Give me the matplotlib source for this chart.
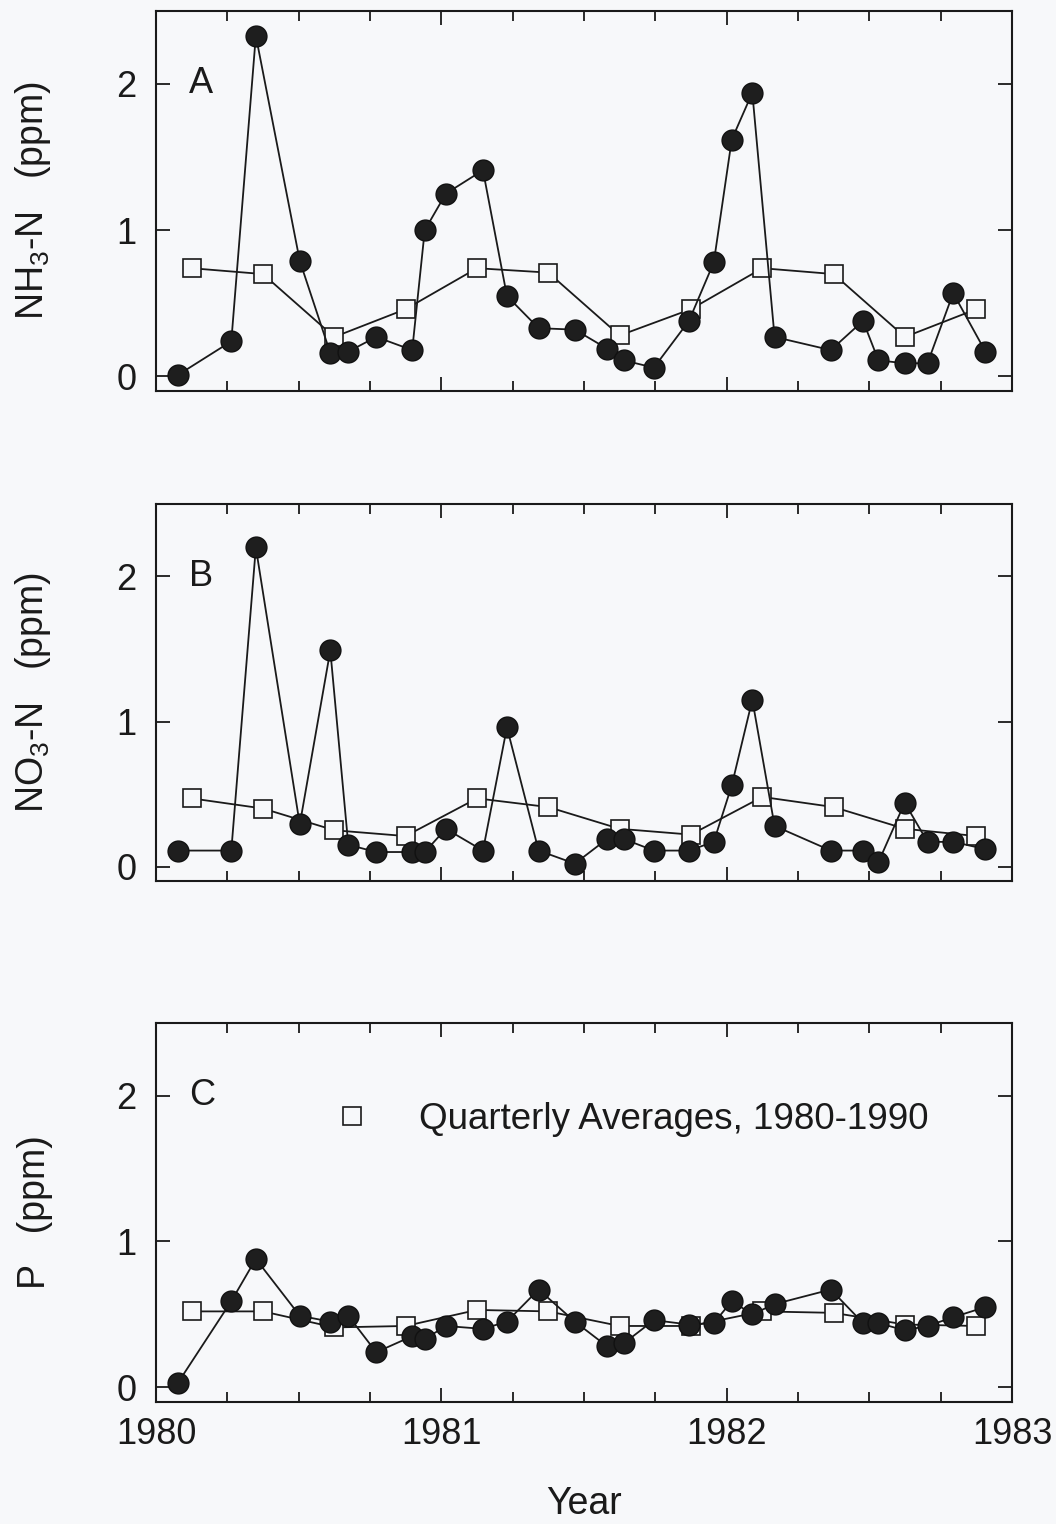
import matplotlib
matplotlib.use("Agg")
import matplotlib.pyplot as plt
from matplotlib.lines import Line2D
from matplotlib.ticker import MultipleLocator

plt.rcParams['font.family'] = ['Liberation Sans', 'DejaVu Sans']
plt.rcParams['mathtext.default'] = 'regular'

# sampling dates (decimal year), shared by all three panels
dates = [1980.077, 1980.264, 1980.350, 1980.504, 1980.611, 1980.674, 1980.772,
         1980.898, 1980.942, 1981.016, 1981.146, 1981.230, 1981.341, 1981.468,
         1981.581, 1981.639, 1981.745, 1981.868, 1981.955, 1982.018, 1982.090,
         1982.168, 1982.365, 1982.478, 1982.532, 1982.624, 1982.704, 1982.794,
         1982.907]

nh3 = [0.01, 0.24, 2.33, 0.79, 0.16, 0.17, 0.27, 0.18, 1.00, 1.25, 1.41, 0.55,
       0.33, 0.32, 0.19, 0.11, 0.06, 0.38, 0.78, 1.62, 1.94, 0.27, 0.18, 0.38,
       0.11, 0.09, 0.09, 0.57, 0.17]
no3 = [0.11, 0.11, 2.20, 0.29, 1.49, 0.15, 0.10, 0.10, 0.10, 0.26, 0.11, 0.96,
       0.11, 0.02, 0.19, 0.19, 0.11, 0.11, 0.17, 0.56, 1.15, 0.28, 0.11, 0.11,
       0.03, 0.44, 0.17, 0.17, 0.12]
phos = [0.03, 0.59, 0.88, 0.49, 0.45, 0.49, 0.24, 0.35, 0.33, 0.42, 0.40, 0.45,
        0.67, 0.45, 0.28, 0.30, 0.46, 0.43, 0.44, 0.59, 0.50, 0.57, 0.67, 0.44,
        0.44, 0.39, 0.42, 0.48, 0.55]

# quarterly averages 1980-1990, plotted at mid-quarter
quarters = [1980.125, 1980.375, 1980.625, 1980.875, 1981.125, 1981.375,
            1981.625, 1981.875, 1982.125, 1982.375, 1982.625, 1982.875]
nh3_q = [0.74, 0.70, 0.27, 0.46, 0.74, 0.71, 0.28, 0.46, 0.74, 0.70, 0.27, 0.46]
no3_q = [0.47, 0.40, 0.25, 0.21, 0.47, 0.41, 0.26, 0.22, 0.48, 0.41, 0.26, 0.21]
p_q = [0.52, 0.52, 0.41, 0.42, 0.53, 0.52, 0.42, 0.42, 0.52, 0.51, 0.43, 0.42]

panels = [
    ("A", "NH$_3$-N   (ppm)", nh3, nh3_q),
    ("B", "NO$_3$-N   (ppm)", no3, no3_q),
    ("C", "P   (ppm)", phos, p_q),
]

bg = "#f7f8fa"
ink = "#1a1a1a"
fs = 26

fig = plt.figure(figsize=(10.56, 15.24), dpi=100, facecolor=bg)
bottoms = [0.7434, 0.4219, 0.0802]
heights = [0.2495, 0.2474, 0.2487]

for i, (letter, ylab, vals, qvals) in enumerate(panels):
    ax = fig.add_axes([0.1477, bottoms[i], 0.8106, heights[i]], facecolor=bg)

    ax.plot(quarters, qvals, color=ink, lw=1.3, marker="s", ms=13,
            mfc=bg, mec=ink, mew=1.2, zorder=2)
    ax.plot(dates, vals, color=ink, lw=1.3, marker="o", ms=15,
            mfc="#1e1e1e", mec="#111111", mew=1, zorder=3)

    ax.set_xlim(1980, 1983)
    ax.set_ylim(-0.1, 2.5)
    ax.set_yticks([0, 1, 2])
    ax.set_xticks([1980, 1981, 1982, 1983])
    ax.xaxis.set_minor_locator(MultipleLocator(0.25))

    ax.tick_params(axis="both", which="major", direction="in", top=True,
                   right=True, length=10, width=1.3, color=ink,
                   labelsize=fs, labelcolor=ink)
    ax.tick_params(axis="x", which="major", pad=11)
    ax.tick_params(axis="y", which="major", pad=14)
    ax.tick_params(axis="x", which="minor", direction="in", top=True,
                   length=7, width=1.3, color=ink)
    for sp in ax.spines.values():
        sp.set_linewidth(1.5)
        sp.set_color(ink)

    ax.text(1980.115, 2.0, letter, fontsize=fs, color=ink, ha="left", va="center")

    ax.set_ylabel(ylab, fontsize=27, color=ink)
    ax.yaxis.set_label_coords(-0.120, 0.5)

    if i < 2:
        ax.set_xticklabels([])
    else:
        ax.set_xticklabels(["1980", "1981", "1982", "1983"])
        ax.set_xlabel("Year", fontsize=27, color=ink)
        ax.xaxis.set_label_coords(0.5, -0.222)
        handle = Line2D([], [], ls="none", marker="s", ms=13, mfc=bg,
                        mec=ink, mew=1.2)
        ax.legend([handle], ["Quarterly Averages, 1980-1990"], loc="center left",
                  bbox_to_anchor=(0.208, 0.746), frameon=False, fontsize=26.5,
                  handlelength=1.0, handletextpad=1.3, borderpad=0,
                  borderaxespad=0, labelcolor=ink)

fig.savefig("out.png", dpi=100, facecolor=bg)
plt.close(fig)
